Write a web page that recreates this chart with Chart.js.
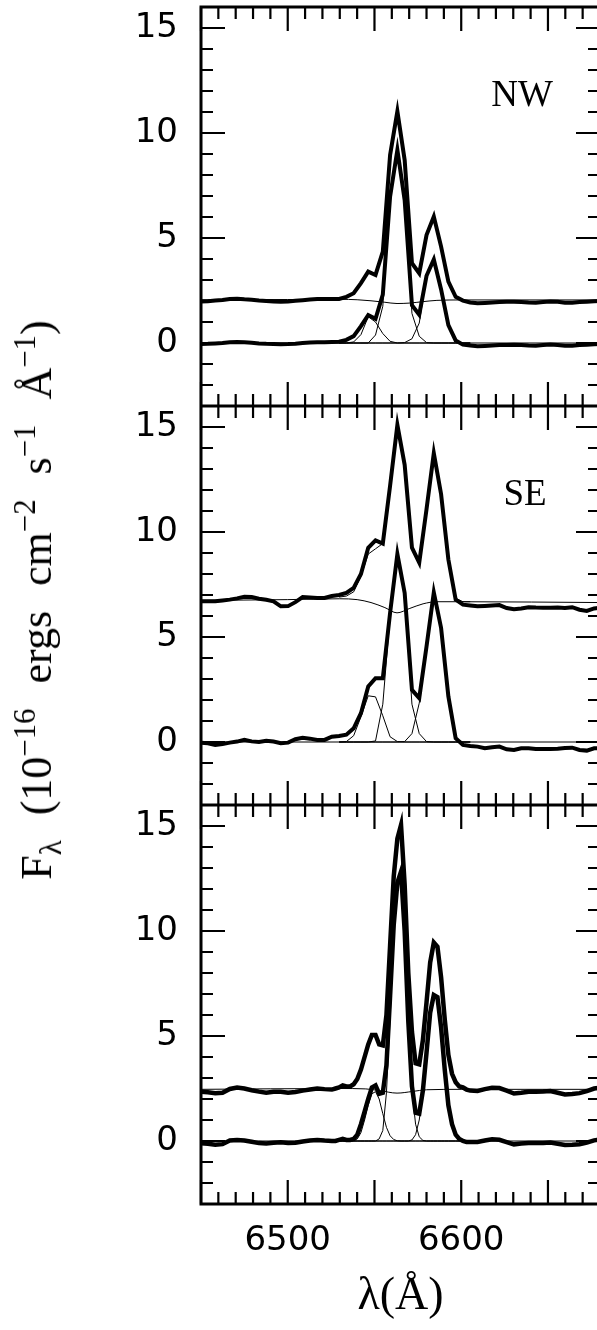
<!DOCTYPE html>
<html>
<head>
<meta charset="utf-8">
<script src="https://cdn.jsdelivr.net/npm/chart.js@4.4.1/dist/chart.umd.min.js"></script>
<style>
  html, body { margin: 0; padding: 0; background: #fff; overflow: hidden; }
  #page { position: relative; width: 597px; height: 1330px; overflow: hidden; }
  .panel { position: absolute; left: 0; }
  .panel canvas { display: block; }
  .tag { position: absolute; transform: translate(-50%, -50%); font: 37px 'Liberation Serif', serif; color: #000; }
  #ytitle {
    position: absolute; left: 37px; top: 600px; white-space: nowrap;
    transform: translate(-50%, -50%) rotate(-90deg);
    font: 44px 'Liberation Serif', serif; line-height: 1; word-spacing: 14px; color: #000;
  }
  #ytitle sub, #ytitle sup { font-size: 0.7em; line-height: 0; }
</style>
</head>
<body>
<div id="page">
  <div class="panel" style="top:0"><canvas id="nw" width="610" height="406"></canvas></div>
  <div class="panel" style="top:406px"><canvas id="se" width="610" height="399"></canvas></div>
  <div class="panel" style="top:805px"><canvas id="c3" width="610" height="525"></canvas></div>
  <div class="tag" style="left:522px;top:93px">NW</div>
  <div class="tag" style="left:525px;top:492px">SE</div>
  <div id="ytitle">F<sub>λ</sub> (10<sup>−16</sup> ergs cm<sup>−2</sup> s<sup>−1</sup> Å<sup>−1</sup>)</div>
</div>
<script>
// wavelength grid (Angstrom) of the spectra in the NW and SE panels
var wave = [6449.8, 6454.0, 6458.2, 6462.4, 6466.6, 6470.8, 6475.0, 6479.2, 6483.4, 6487.6,
            6491.8, 6496.0, 6500.2, 6504.4, 6508.6, 6512.8, 6517.0, 6521.2, 6525.4, 6529.6,
            6533.8, 6538.0, 6542.2, 6546.4, 6550.6, 6554.8, 6559.0, 6563.2, 6567.4, 6571.6,
            6575.8, 6580.0, 6584.2, 6588.4, 6592.6, 6596.8, 6601.0, 6605.2, 6609.4, 6613.6,
            6617.8, 6622.0, 6626.2, 6630.4, 6634.6, 6638.8, 6643.0, 6647.2, 6651.4, 6655.6,
            6659.8, 6664.0, 6668.2, 6672.4, 6676.6, 6680.8];
// part of that grid around the lines, used by the fitted components
var lineWave = [6529.6, 6533.8, 6538.0, 6542.2, 6546.4, 6550.6, 6554.8, 6559.0, 6563.2, 6567.4,
                6571.6, 6575.8, 6580.0, 6584.2, 6588.4, 6592.6, 6596.8, 6601.0, 6605.2];
var contWave = [6449.8, 6500, 6530, 6540, 6548, 6556, 6563, 6570, 6578, 6586, 6600, 6680.8];
var zeroWave = [6449.8, 6680.8];
var zeroLine = [0, 0];

// NW
var nwObs = [1.97, 1.99, 2.02, 2.05, 2.10, 2.11, 2.08, 2.06, 2.02, 2.00, 1.98, 1.97, 1.98, 2.01, 2.04, 2.07, 2.09, 2.10, 2.10,
             2.10, 2.20, 2.37, 2.85, 3.40, 3.24, 4.35, 8.95, 11.03, 8.71, 3.80, 3.32, 5.14, 6.02, 4.59, 2.92, 2.20, 2.02, 1.93,
             1.89, 1.91, 1.93, 1.95, 1.96, 1.97, 1.95, 1.93, 1.92, 1.95, 1.98, 1.96, 1.92, 1.92, 1.95, 1.97, 1.99, 2.00];
var nwSub = [-0.05, -0.04, -0.02, 0.00, 0.04, 0.05, 0.03, 0.01, -0.02, -0.04, -0.05, -0.06, -0.05, -0.03, 0.00, 0.02, 0.03, 0.04, 0.05,
             0.06, 0.15, 0.33, 0.80, 1.33, 1.15, 2.30, 6.97, 9.19, 6.80, 1.80, 1.35, 3.20, 3.98, 2.55, 0.85, 0.12, -0.08, -0.12,
             -0.16, -0.14, -0.12, -0.10, -0.09, -0.08, -0.10, -0.12, -0.13, -0.10, -0.07, -0.09, -0.13, -0.13, -0.10, -0.08, -0.06, -0.05];
var nwCont = [2.06, 2.07, 2.08, 2.06, 2.01, 1.94, 1.88, 1.90, 1.97, 2.03, 2.05, 2.05];
var nwN2a = [0, 0, 0.05, 0.40, 1.25, 1.00, 0.45, 0.08, 0, 0, 0, 0, 0, 0, 0, 0, 0, 0, 0];
var nwHa  = [0, 0, 0, 0, 0, 0.38, 1.75, 6.90, 9.19, 6.80, 1.41, 0.32, 0.02, 0, 0, 0, 0, 0, 0];
var nwN2b = [0, 0, 0, 0, 0, 0, 0, 0, 0, 0.02, 0.20, 0.95, 3.20, 3.98, 2.52, 0.78, 0.08, 0, 0];

// SE
var seObs = [6.70, 6.70, 6.70, 6.74, 6.78, 6.84, 6.92, 6.90, 6.82, 6.77, 6.70, 6.46, 6.47, 6.66, 6.90, 6.88, 6.86, 6.86, 6.95,
             7.00, 7.10, 7.34, 8.00, 9.25, 9.60, 9.45, 12.20, 15.10, 13.20, 9.25, 8.54, 11.08, 13.75, 11.80, 8.69, 6.78, 6.54, 6.50,
             6.46, 6.48, 6.50, 6.52, 6.38, 6.32, 6.36, 6.42, 6.40, 6.39, 6.39, 6.40, 6.38, 6.42, 6.30, 6.24, 6.36, 6.40];
var seSub = [-0.03, -0.06, -0.14, -0.10, -0.03, 0.02, 0.10, 0.03, 0.00, 0.06, 0.02, -0.06, -0.03, 0.13, 0.20, 0.16, 0.10, 0.10, 0.25,
             0.29, 0.35, 0.65, 1.37, 2.64, 3.04, 3.04, 6.15, 8.95, 7.10, 2.48, 2.09, 4.55, 7.12, 5.43, 2.17, 0.18, -0.14, -0.19,
             -0.22, -0.30, -0.25, -0.22, -0.35, -0.38, -0.30, -0.30, -0.33, -0.33, -0.33, -0.32, -0.29, -0.27, -0.38, -0.41, -0.30, -0.30];
var seCont = [6.74, 6.78, 6.82, 6.78, 6.64, 6.40, 6.15, 6.35, 6.58, 6.68, 6.68, 6.64];
var seFit  = [6.90, 6.95, 7.15, 7.90, 8.95, 9.20, 9.45, 12.25, 15.05, 13.25, 9.20, 8.55, 11.10, 13.75, 11.90, 8.80, 6.85, 6.68, 6.68];
var seN2a = [0, 0.02, 0.30, 1.20, 2.20, 2.15, 1.25, 0.25, 0.02, 0, 0, 0, 0, 0, 0, 0, 0, 0, 0];
var seHa  = [0, 0, 0, 0, 0, 0.05, 1.80, 6.00, 8.90, 7.00, 1.80, 0.40, 0.02, 0, 0, 0, 0, 0, 0];
var seN2b = [0, 0, 0, 0, 0, 0, 0, 0, 0, 0.02, 0.40, 1.85, 4.50, 7.10, 5.40, 2.10, 0.15, 0, 0];

// third panel, sampled more finely across the lines
var p3Wave = [6449.8, 6454.0, 6458.2, 6462.4, 6466.6, 6470.8, 6475.0, 6479.2, 6483.4, 6487.6,
              6491.8, 6496.0, 6500.2, 6504.4, 6508.6, 6512.8, 6517.0, 6521.2, 6525.4,
              6527.5, 6529.6, 6531.7, 6533.8, 6535.9, 6538.0, 6540.1, 6542.2, 6544.3, 6546.4,
              6548.5, 6550.6, 6552.7, 6554.8, 6556.9, 6559.0, 6561.1, 6563.2, 6565.3, 6567.4,
              6569.5, 6571.6, 6573.7, 6575.8, 6577.9, 6580.0, 6582.1, 6584.2, 6586.3, 6588.4,
              6590.5, 6592.6, 6594.7, 6596.8, 6598.9, 6601.0, 6603.1, 6605.2,
              6609.4, 6613.6, 6617.8, 6622.0, 6626.2, 6630.4, 6634.6, 6638.8, 6643.0, 6647.2,
              6651.4, 6655.6, 6659.8, 6664.0, 6668.2, 6672.4, 6676.6, 6680.8];
var p3LineWave = p3Wave.slice(19, 57);
var p3ContWave = [6449.8, 6530, 6545, 6553, 6563, 6572, 6580, 6600, 6680.8];
var p3Obs = [2.35, 2.32, 2.27, 2.30, 2.48, 2.55, 2.50, 2.42, 2.35, 2.30, 2.34, 2.35, 2.30, 2.33, 2.40, 2.45, 2.50, 2.47, 2.45,
             2.50, 2.55, 2.65, 2.60, 2.60, 2.70, 2.95, 3.40, 4.00, 4.60, 5.05, 5.05, 4.60, 4.55, 6.00, 9.30, 12.60, 14.40, 15.05, 12.20,
             8.00, 5.20, 3.70, 3.65, 4.80, 6.60, 8.50, 9.45, 9.25, 7.80, 5.80, 4.10, 3.20, 2.80, 2.60, 2.55, 2.45, 2.40,
             2.38, 2.47, 2.53, 2.52, 2.40, 2.26, 2.30, 2.35, 2.35, 2.36, 2.38, 2.30, 2.22, 2.24, 2.28, 2.38, 2.50, 2.55];
var p3Sub = [-0.10, -0.13, -0.18, -0.15, 0.02, 0.05, 0.02, -0.04, -0.10, -0.12, -0.08, -0.06, -0.10, -0.08, -0.02, 0.02, 0.05, 0.02, 0.00,
             0.00, 0.05, 0.10, 0.05, 0.05, 0.10, 0.30, 0.80, 1.40, 2.00, 2.55, 2.65, 2.25, 2.30, 3.60, 6.90, 10.30, 12.30, 12.83, 10.00,
             5.70, 2.60, 1.35, 1.30, 2.40, 4.20, 6.10, 6.95, 6.85, 5.40, 3.40, 1.70, 0.80, 0.30, 0.10, 0.00, -0.05, -0.05,
             -0.05, 0.02, 0.08, 0.06, -0.05, -0.16, -0.12, -0.10, -0.10, -0.09, -0.07, -0.13, -0.19, -0.18, -0.15, -0.08, 0.03, 0.08];
var p3Cont = [2.46, 2.50, 2.48, 2.40, 2.28, 2.36, 2.44, 2.46, 2.46];
var p3N2a = [0, 0, 0, 0, 0, 0.02, 0.10, 0.40, 1.00, 1.70, 2.25, 2.35, 2.00, 1.30, 0.65, 0.25, 0.07, 0.01, 0,
             0, 0, 0, 0, 0, 0, 0, 0, 0, 0, 0, 0, 0, 0, 0, 0, 0, 0, 0];
var p3Ha  = [0, 0, 0, 0, 0, 0, 0, 0, 0, 0, 0, 0, 0.10, 0.50, 2.30, 5.80, 9.80, 12.20, 12.75,
             10.00, 5.70, 2.40, 0.80, 0.20, 0.03, 0, 0, 0, 0, 0, 0, 0, 0, 0, 0, 0, 0, 0];
var p3N2b = [0, 0, 0, 0, 0, 0, 0, 0, 0, 0, 0, 0, 0, 0, 0, 0, 0, 0, 0,
             0, 0, 0.05, 0.30, 1.00, 2.30, 4.10, 6.00, 6.90, 6.80, 5.35, 3.35, 1.65, 0.70, 0.22, 0.05, 0, 0, 0];

var xTicks = {min: 6450, max: 6680, step: 10, major: 50, label: 100};
var yTicks = {min: -3, max: 16, step: 1, major: 5};

function pts(xs, ys) {
    return xs.map(function(x, i) { return {x: x, y: ys[i]}; });
}
function thick(xs, ys, w) {
    return {data: pts(xs, ys), borderColor: '#000', borderWidth: w || 4, pointRadius: 0, tension: 0, clip: 0};
}
function thin(xs, ys, smooth) {
    return {data: pts(xs, ys), borderColor: '#000', borderWidth: 1, pointRadius: 0,
            cubicInterpolationMode: smooth ? 'monotone' : 'default', tension: 0, clip: 0};
}

// box round the plot and inward ticks on all four sides
var frameTicks = {
    id: 'frameTicks',
    afterDatasetsDraw: function(chart) {
        var ctx = chart.ctx, a = chart.chartArea, x = chart.scales.x, y = chart.scales.y;
        ctx.save();
        ctx.strokeStyle = '#000';
        ctx.lineWidth = 2.2;
        ctx.beginPath();
        x.ticks.forEach(function(t) {
            var px = x.getPixelForValue(t.value);
            var len = t.value % xTicks.major === 0 ? 24 : 12;
            ctx.moveTo(px, a.bottom); ctx.lineTo(px, a.bottom - len);
            ctx.moveTo(px, a.top); ctx.lineTo(px, a.top + len);
        });
        y.ticks.forEach(function(t) {
            var py = y.getPixelForValue(t.value);
            var len = t.value % yTicks.major === 0 ? 24 : 12;
            ctx.moveTo(a.left, py); ctx.lineTo(a.left + len, py);
            ctx.moveTo(a.right, py); ctx.lineTo(a.right - len, py);
        });
        ctx.stroke();
        ctx.lineWidth = 3;
        ctx.strokeRect(a.left, a.top, a.right - a.left, a.bottom - a.top);
        ctx.restore();
    }
};

function makePanel(id, datasets, showX, padTop) {
    return new Chart(document.getElementById(id).getContext('2d'), {
        type: 'line',
        data: {datasets: datasets},
        plugins: [frameTicks],
        options: {
            responsive: false, animation: false, devicePixelRatio: 1,
            layout: {padding: {top: padTop, right: 10, left: 0, bottom: 0}},
            plugins: {legend: {display: false}, tooltip: {enabled: false}},
            scales: {
                x: {
                    type: 'linear', min: xTicks.min, max: xTicks.max,
                    grid: {display: false, drawTicks: false}, border: {display: false},
                    ticks: {
                        display: showX, stepSize: xTicks.step, autoSkip: false, maxRotation: 0, minRotation: 0,
                        padding: 17, color: '#000', font: {family: 'DejaVu Sans', size: 34},
                        callback: function(v) { return v % xTicks.label === 0 ? String(v) : ''; }
                    },
                    title: {display: showX, text: 'λ(Å)', color: '#000',
                            font: {family: 'Liberation Serif', size: 46}, padding: {top: 0, bottom: 5}},
                    afterFit: function(s) { s.height = showX ? 126 : 0; s.paddingLeft = 0; s.paddingRight = 0; }
                },
                y: {
                    min: yTicks.min, max: yTicks.max,
                    grid: {display: false, drawTicks: false}, border: {display: false},
                    ticks: {
                        stepSize: yTicks.step, autoSkip: false, padding: 23, color: '#000',
                        font: {family: 'DejaVu Sans', size: 34},
                        callback: function(v) { return v % yTicks.major === 0 ? String(v) : ''; }
                    },
                    afterFit: function(s) { s.width = 201; s.paddingTop = 0; s.paddingBottom = 0; }
                }
            }
        }
    });
}

makePanel('nw', [
    thick(wave, nwObs), thick(wave, nwSub),
    thin(contWave, nwCont, true), thin(zeroWave, zeroLine),
    thin(lineWave, nwN2a), thin(lineWave, nwHa), thin(lineWave, nwN2b)
], false, 7);

makePanel('se', [
    thick(wave, seObs), thick(wave, seSub),
    thin(lineWave, seFit), thin(contWave, seCont, true), thin(zeroWave, zeroLine),
    thin(lineWave, seN2a), thin(lineWave, seHa), thin(lineWave, seN2b)
], false, 0);

makePanel('c3', [
    thick(p3Wave, p3Obs, 4.5), thick(p3Wave, p3Sub, 4.5),
    thin(p3ContWave, p3Cont, true), thin(zeroWave, zeroLine),
    thin(p3LineWave, p3N2a), thin(p3LineWave, p3Ha), thin(p3LineWave, p3N2b)
], true, 0);
</script>
</body>
</html>
